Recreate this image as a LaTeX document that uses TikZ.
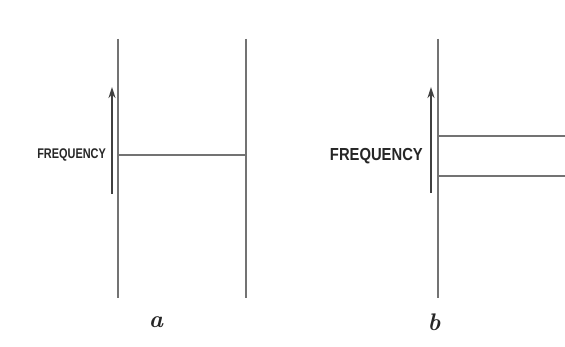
\documentclass[tikz,border=0pt]{standalone}
\usepackage{fontspec}
\setsansfont{Liberation Sans}
\usetikzlibrary{arrows.meta}
\begin{document}
\begin{tikzpicture}[x=1pt,y=-1pt,
    axis/.style={line width=1.8pt, black!55},
    level/.style={line width=1.4pt, black!55},
    freq/.style={line width=2.2pt, black!75, -{Stealth[length=11pt,width=7pt]}},
    tag/.style={font=\fontsize{24}{24}\selectfont\bfseries\itshape, black!85}]
    \useasboundingbox[fill=white] (0,0) rectangle (565,347);
    % panel a
    \draw[axis] (118,39) -- (118,298);
    \draw[axis] (246,39) -- (246,298);
    \draw[level] (118,155) -- (246,155);
    \draw[freq] (112,194) -- (112,87);
    \node[font=\sffamily\bfseries, anchor=east, xscale=0.78, inner sep=0pt, black!85] (fa) at (106,155) {\fontsize{14}{14}\selectfont FREQUENCY};
    \node[tag] (la) at (156,322) {a};
    % panel b
    \draw[axis] (438,39) -- (438,298);
    \draw[level] (438,136) -- (565,136);
    \draw[level] (438,176) -- (565,176);
    \draw[freq] (431,193) -- (431,87);
    \node[font=\sffamily\bfseries, anchor=east, xscale=0.85, inner sep=0pt, black!85] (fb) at (423,156) {\fontsize{17.4}{17.4}\selectfont FREQUENCY};
    \node[tag] (lb) at (434,322) {b};
\end{tikzpicture}
\end{document}
